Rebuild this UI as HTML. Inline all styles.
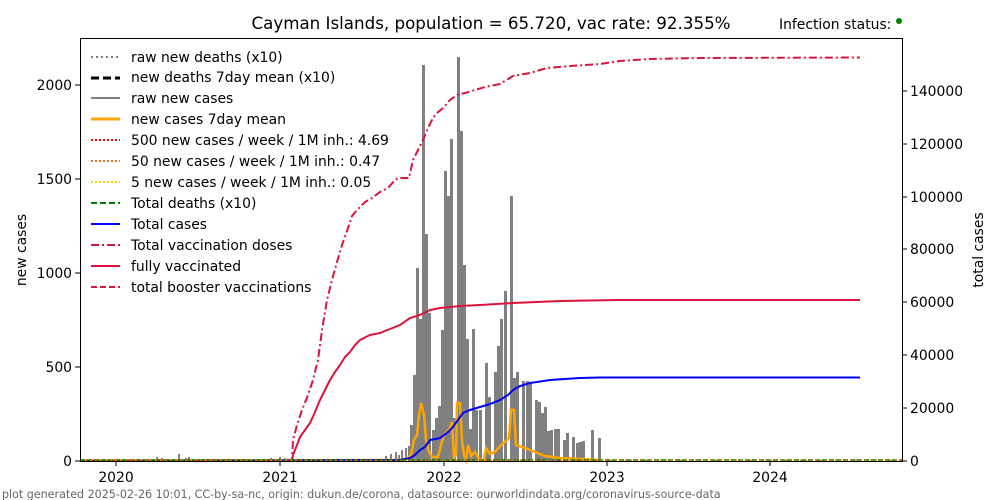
<!DOCTYPE html>
<html><head><meta charset="utf-8"><style>
body{margin:0;background:#fff;}
svg{display:block;font-family:"DejaVu Sans","Liberation Sans",sans-serif;}
</style></head><body>
<svg width="1000" height="500" viewBox="0 0 1000 500" xmlns="http://www.w3.org/2000/svg">
<rect width="1000" height="500" fill="#fff"/>
<text x="491" y="29" font-size="16.7" text-anchor="middle">Cayman Islands, population = 65.720, vac rate: 92.355%</text>
<text x="779" y="29" font-size="13.9">Infection status:</text>
<circle cx="899" cy="21" r="3" fill="green"/>
<g fill="#808080">
<rect x="156" y="457" width="2" height="4"/><rect x="161" y="458" width="2" height="3"/><rect x="178" y="454" width="2" height="7"/><rect x="185" y="458" width="2" height="3"/><rect x="188" y="457" width="2" height="4"/>
<rect x="245" y="459" width="2" height="2"/><rect x="262" y="459" width="2" height="2"/><rect x="270" y="458" width="2" height="3"/><rect x="279" y="457" width="2" height="4"/><rect x="284" y="458" width="2" height="3"/>
<rect x="300" y="459" width="2" height="2"/><rect x="320" y="459" width="2" height="2"/><rect x="350" y="459" width="2" height="2"/><rect x="370" y="459" width="2" height="2"/>
<rect x="385" y="456" width="2" height="5"/><rect x="390" y="454" width="2" height="7"/><rect x="395" y="452" width="2" height="9"/><rect x="398" y="455" width="2" height="6"/><rect x="401" y="450" width="2" height="11"/><rect x="405" y="448" width="2" height="13"/><rect x="408" y="446" width="2" height="15"/>
<rect x="410" y="425" width="3" height="36"/><rect x="413" y="375" width="3" height="86"/><rect x="416" y="268" width="3" height="193"/><rect x="419" y="319" width="3" height="142"/><rect x="422" y="65" width="3" height="396"/><rect x="425" y="234" width="3" height="227"/><rect x="428" y="313" width="3" height="148"/><rect x="432" y="430" width="3" height="31"/><rect x="435" y="418" width="3" height="43"/><rect x="438" y="406" width="3" height="55"/><rect x="441" y="330" width="3" height="131"/><rect x="444" y="171" width="3" height="290"/><rect x="447" y="196" width="3" height="265"/><rect x="450" y="139" width="3" height="322"/><rect x="453" y="418" width="3" height="43"/><rect x="457" y="57" width="3" height="404"/><rect x="460" y="131" width="3" height="330"/><rect x="463" y="265" width="3" height="196"/><rect x="466" y="339" width="3" height="122"/><rect x="469" y="429" width="3" height="32"/><rect x="472" y="329" width="3" height="132"/><rect x="475" y="410" width="3" height="51"/><rect x="479" y="410" width="3" height="51"/><rect x="485" y="363" width="3" height="98"/><rect x="488" y="397" width="3" height="64"/><rect x="494" y="372" width="3" height="89"/><rect x="497" y="346" width="3" height="115"/><rect x="500" y="319" width="3" height="142"/><rect x="504" y="291" width="3" height="170"/><rect x="510" y="196" width="3" height="265"/><rect x="513" y="378" width="3" height="83"/><rect x="516" y="372" width="3" height="89"/><rect x="522" y="381" width="3" height="80"/><rect x="526" y="381" width="3" height="80"/><rect x="529" y="383" width="3" height="78"/><rect x="535" y="400" width="3" height="61"/><rect x="538" y="402" width="3" height="59"/><rect x="541" y="413" width="3" height="48"/><rect x="544" y="407" width="3" height="54"/><rect x="547" y="431" width="3" height="30"/><rect x="550" y="430" width="3" height="31"/><rect x="554" y="429" width="3" height="32"/><rect x="557" y="429" width="3" height="32"/><rect x="563" y="440" width="3" height="21"/><rect x="566" y="433" width="3" height="28"/><rect x="572" y="437" width="3" height="24"/><rect x="576" y="443" width="3" height="18"/><rect x="579" y="442" width="3" height="19"/><rect x="582" y="441" width="3" height="20"/><rect x="591" y="430" width="3" height="31"/><rect x="598" y="438" width="3" height="23"/>
</g>
<polyline fill="none" stroke="orange" stroke-width="2.5" points="80,460.5 400,460 408,458 411,455 414,440 417,435 419,415 421,403 424,415 426,440 429,452 432,457 438,457 441,445 444,435 447,432 450,428 452,422 454,458 456,455 457,403 460,403 462,440 464,455 466,460 468,445 471,456 475,452 480,460 484,460 486,448 490,454 495,452 500,446 505,442 509,438 511,410 514,410 516,445 525,448 535,452 545,456 560,458 580,459 600,460"/>
<polyline fill="none" stroke="blue" stroke-width="2" points="80,461 400,460 410,458 415,455 420,450 425,447 430,440 440,438 447,433 452,428 458,420 463,413 470,410 480,407 490,404 500,400 508,395 513,390 520,386 530,383 537,382 550,380 580,378 600,377.5 860,377.5"/>
<polyline fill="none" stroke="crimson" stroke-width="2" points="292,461 293,455 297,445 300,437 305,430 310,423 315,412 320,400 325,390 330,380 335,372 340,365 345,357 350,352 355,345 360,340 370,335 380,333 390,329 400,325 410,318 420,315 430,310 440,308 460,306 480,305 513,303 560,301 620,300 860,300"/>
<polyline fill="none" stroke="crimson" stroke-width="2" stroke-dasharray="8,3,2,3" points="80,461 292,461 293,440 297,425 302,410 308,395 313,380 318,360 322,330 327,300 332,280 337,262 342,245 348,228 352,216 357,210 365,202 372,198 380,192 388,188 395,180 398,178 409,178 413,160 418,150 423,140 428,128 433,118 437,113 443,108 450,100 457,95 465,93 475,90 485,87 500,84 513,76 530,73 547,68 570,66 600,64 620,61 650,59 700,58 860,57.5"/>
<line x1="80" y1="460" x2="902" y2="460" stroke="green" stroke-width="1.5" stroke-dasharray="5,2"/>
<line x1="80" y1="460.5" x2="902" y2="460.5" stroke="#f60" stroke-width="1.5" stroke-dasharray="2,3"/>
<rect x="80.5" y="38.5" width="822" height="423" fill="none" stroke="#000" stroke-width="1"/>
<g stroke="#000" stroke-width="1">
<line x1="116" y1="461" x2="116" y2="466"/><line x1="280" y1="461" x2="280" y2="466"/><line x1="444" y1="461" x2="444" y2="466"/><line x1="607" y1="461" x2="607" y2="466"/><line x1="770" y1="461" x2="770" y2="466"/>
<line x1="75" y1="461" x2="80" y2="461"/><line x1="75" y1="367" x2="80" y2="367"/><line x1="75" y1="273" x2="80" y2="273"/><line x1="75" y1="179" x2="80" y2="179"/><line x1="75" y1="85" x2="80" y2="85"/>
<line x1="902" y1="461" x2="907" y2="461"/><line x1="902" y1="408" x2="907" y2="408"/><line x1="902" y1="355" x2="907" y2="355"/><line x1="902" y1="302" x2="907" y2="302"/><line x1="902" y1="249" x2="907" y2="249"/><line x1="902" y1="197" x2="907" y2="197"/><line x1="902" y1="144" x2="907" y2="144"/><line x1="902" y1="91" x2="907" y2="91"/>
</g>
<g font-size="13.9" text-anchor="middle">
<text x="116" y="482">2020</text><text x="280" y="482">2021</text><text x="444" y="482">2022</text><text x="607" y="482">2023</text><text x="770" y="482">2024</text>
</g>
<g font-size="13.9" text-anchor="end">
<text x="72" y="466">0</text><text x="72" y="372">500</text><text x="72" y="278">1000</text><text x="72" y="184">1500</text><text x="72" y="90">2000</text>
</g>
<g font-size="13.9">
<text x="910" y="466">0</text><text x="910" y="413">20000</text><text x="910" y="360">40000</text><text x="910" y="307">60000</text><text x="910" y="254">80000</text><text x="910" y="202">100000</text><text x="910" y="149">120000</text><text x="910" y="96">140000</text>
</g>
<text font-size="13.9" transform="translate(26,250) rotate(-90)" text-anchor="middle">new cases</text>
<text font-size="13.9" transform="translate(983,250) rotate(-90)" text-anchor="middle">total cases</text>
<g stroke-width="2" fill="none">
<line x1="91" y1="57" x2="120" y2="57" stroke="gray" stroke-dasharray="2,3"/>
<line x1="91" y1="78" x2="120" y2="78" stroke="#000" stroke-width="3" stroke-dasharray="8,4"/>
<line x1="91" y1="98" x2="120" y2="98" stroke="gray"/>
<line x1="91" y1="119" x2="120" y2="119" stroke="orange" stroke-width="3"/>
<line x1="91" y1="140" x2="120" y2="140" stroke="red" stroke-dasharray="2,2"/>
<line x1="91" y1="161" x2="120" y2="161" stroke="#e07020" stroke-dasharray="2,2"/>
<line x1="91" y1="182" x2="120" y2="182" stroke="gold" stroke-dasharray="2,2"/>
<line x1="91" y1="203" x2="120" y2="203" stroke="green" stroke-dasharray="6,3"/>
<line x1="91" y1="224" x2="120" y2="224" stroke="blue"/>
<line x1="91" y1="245" x2="120" y2="245" stroke="crimson" stroke-dasharray="8,3,2,3"/>
<line x1="91" y1="266" x2="120" y2="266" stroke="crimson"/>
<line x1="91" y1="287" x2="120" y2="287" stroke="crimson" stroke-dasharray="6,3"/>
</g>
<g font-size="13.9">
<text x="131" y="62">raw new deaths (x10)</text>
<text x="131" y="82">new deaths 7day mean (x10)</text>
<text x="131" y="103">raw new cases</text>
<text x="131" y="124">new cases 7day mean</text>
<text x="131" y="145">500 new cases / week / 1M inh.: 4.69</text>
<text x="131" y="166">50 new cases / week / 1M inh.: 0.47</text>
<text x="131" y="187">5 new cases / week / 1M inh.: 0.05</text>
<text x="131" y="208">Total deaths (x10)</text>
<text x="131" y="229">Total cases</text>
<text x="131" y="250">Total vaccination doses</text>
<text x="131" y="271">fully vaccinated</text>
<text x="131" y="292">total booster vaccinations</text>
</g>
<text x="2" y="498" font-size="11.1" fill="#666">plot generated 2025-02-26 10:01, CC-by-sa-nc, origin: dukun.de/corona, datasource: ourworldindata.org/coronavirus-source-data</text>
</svg>
</body></html>
